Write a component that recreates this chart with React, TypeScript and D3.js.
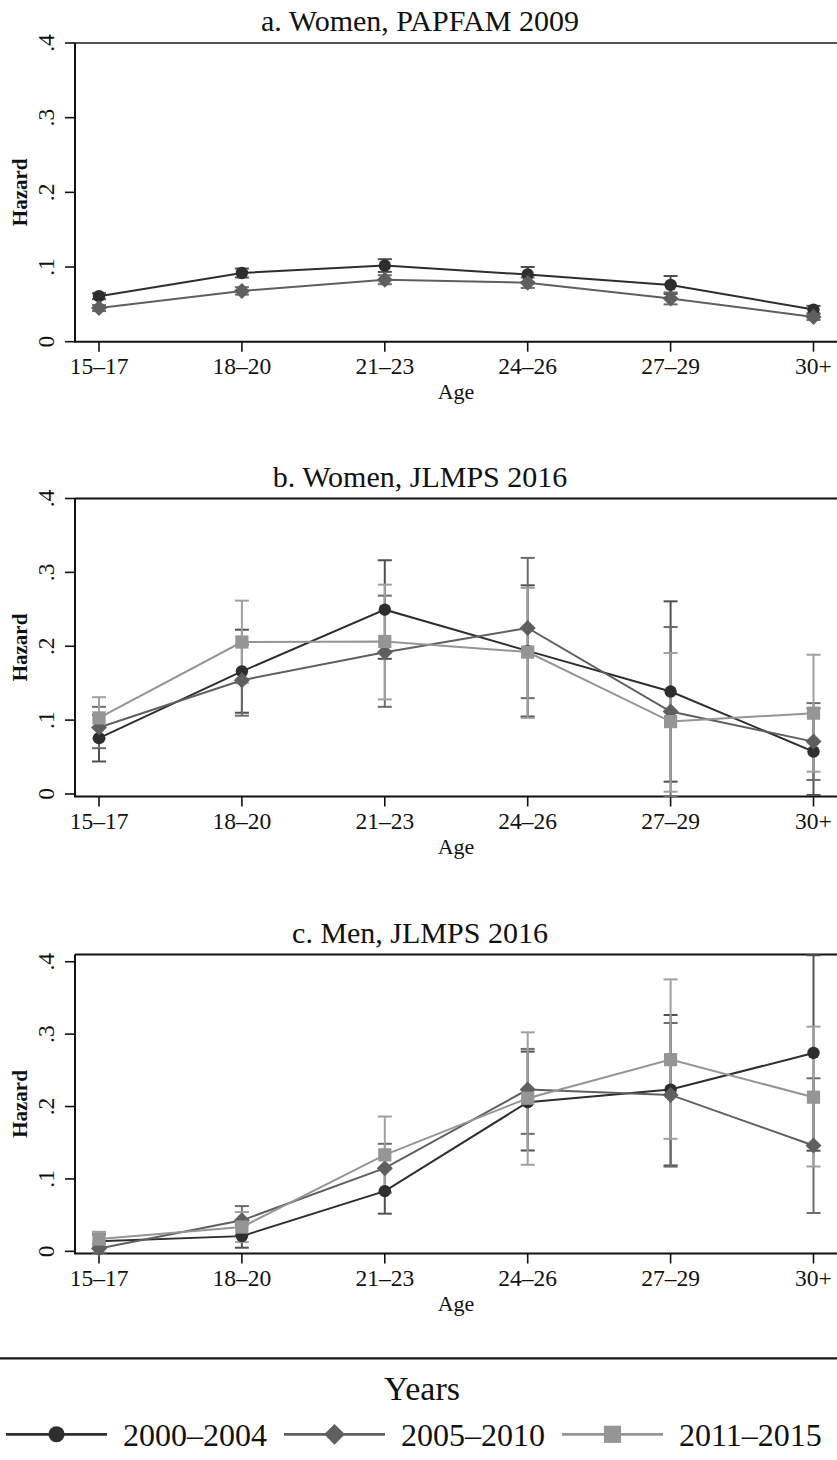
import React from "react";
import * as d3 from "d3";

// categories and labels
const ages = ["15–17", "18–20", "21–23", "24–26", "27–29", "30+"];
const yTicks = [0, 0.1, 0.2, 0.3, 0.4];
const yTickText = ["0", ".1", ".2", ".3", ".4"];
const periods = ["2000–2004", "2005–2010", "2011–2015"];

// a. Women, PAPFAM 2009
const papfam2000 = [0.061, 0.092, 0.102, 0.090, 0.076, 0.043];
const papfam2000Lo = [0.057, 0.086, 0.0935, 0.080, 0.064, 0.038];
const papfam2000Hi = [0.065, 0.098, 0.1105, 0.100, 0.088, 0.048];
const papfam2005 = [0.045, 0.068, 0.083, 0.079, 0.058, 0.033];
const papfam2005Lo = [0.041, 0.063, 0.077, 0.072, 0.050, 0.029];
const papfam2005Hi = [0.049, 0.073, 0.089, 0.086, 0.066, 0.037];

// b. Women, JLMPS 2016
const women2000 = [0.0755, 0.166, 0.2495, 0.1937, 0.1387, 0.0574];
const women2000Lo = [0.044, 0.110, 0.183, 0.1048, 0.0167, -0.0014];
const women2000Hi = [0.107, 0.2224, 0.3164, 0.2825, 0.2608, 0.116];
const women2005 = [0.090, 0.154, 0.192, 0.2247, 0.1116, 0.0709];
const women2005Lo = [0.062, 0.106, 0.118, 0.1297, -0.003, 0.019];
const women2005Hi = [0.118, 0.202, 0.2685, 0.3196, 0.226, 0.123];
const women2011 = [0.103, 0.2057, 0.2065, 0.1921, 0.098, 0.1094];
const women2011Lo = [0.075, 0.150, 0.128, 0.103, 0.0031, 0.0302];
const women2011Hi = [0.131, 0.2617, 0.2834, 0.279, 0.1908, 0.1885];

// c. Men, JLMPS 2016
const men2000 = [0.014, 0.021, 0.0832, 0.206, 0.2234, 0.274];
const men2000Lo = [0.005, 0.005, 0.052, 0.1393, 0.1186, 0.139];
const men2000Hi = [0.0234, 0.037, 0.1144, 0.2759, 0.3264, 0.409];
const men2005 = [0.004, 0.0428, 0.1149, 0.2234, 0.2161, 0.1462];
const men2005Lo = [-0.002, 0.023, 0.0813, 0.1623, 0.117, 0.0529];
const men2005Hi = [0.010, 0.0625, 0.1485, 0.2796, 0.3154, 0.239];
const men2011 = [0.017, 0.0336, 0.1333, 0.2115, 0.2648, 0.2129];
const men2011Lo = [0.007, 0.0128, 0.0804, 0.1196, 0.1554, 0.1172];
const men2011Hi = [0.027, 0.0542, 0.1862, 0.3025, 0.3756, 0.3103];

const FONT = "'Liberation Serif', 'Times New Roman', serif";
const lineColors = ["#2e2e2e", "#5f5f5f", "#959595"];
const barColors = ["#505050", "#6c6c6c", "#a0a0a0"];

type Series = { k: number; est: number[]; lo: number[]; hi: number[] };
type PanelDef = {
  title: string;
  series: Series[];
  yDomain: [number, number];
  top: number;
  bottom: number;
  frame: string;
};

const panels: PanelDef[] = [
  {
    title: "a. Women, PAPFAM 2009",
    series: [
      { k: 0, est: papfam2000, lo: papfam2000Lo, hi: papfam2000Hi },
      { k: 1, est: papfam2005, lo: papfam2005Lo, hi: papfam2005Hi },
    ],
    yDomain: [0, 0.4],
    top: 43,
    bottom: 341.7,
    frame: "#555",
  },
  {
    title: "b. Women, JLMPS 2016",
    series: [
      { k: 0, est: women2000, lo: women2000Lo, hi: women2000Hi },
      { k: 1, est: women2005, lo: women2005Lo, hi: women2005Hi },
      { k: 2, est: women2011, lo: women2011Lo, hi: women2011Hi },
    ],
    yDomain: [-0.0034, 0.4],
    top: 498.5,
    bottom: 796.5,
    frame: "#111",
  },
  {
    title: "c. Men, JLMPS 2016",
    series: [
      { k: 0, est: men2000, lo: men2000Lo, hi: men2000Hi },
      { k: 1, est: men2005, lo: men2005Lo, hi: men2005Hi },
      { k: 2, est: men2011, lo: men2011Lo, hi: men2011Hi },
    ],
    yDomain: [-0.003, 0.41],
    top: 954.5,
    bottom: 1253.5,
    frame: "#111",
  },
];

const x = d3.scalePoint<string>().domain(ages).range([99, 813.5]);
const AXIS_X = 75;
const RIGHT = 837;

function Marker({ k, cx, cy, scale = 1 }: { k: number; cx: number; cy: number; scale?: number }) {
  const c = lineColors[k];
  if (k === 0) return <circle cx={cx} cy={cy} r={6.2 * scale} fill={c} />;
  if (k === 1) {
    const h = 8 * scale;
    return <path d={`M${cx},${cy - h}L${cx + h},${cy}L${cx},${cy + h}L${cx - h},${cy}Z`} fill={c} />;
  }
  const s = 6.6 * scale;
  return <rect x={cx - s} y={cy - s} width={2 * s} height={2 * s} fill={c} />;
}

function Panel({ p }: { p: PanelDef }) {
  const y = d3.scaleLinear().domain(p.yDomain).range([p.bottom, p.top]);
  const line = d3
    .line<number>()
    .x((_, i) => x(ages[i])!)
    .y((d) => y(d));
  const midY = (p.top + p.bottom) / 2;
  return (
    <g>
      <text x={420} y={p.top - 12} fontSize={30} textAnchor="middle">
        {p.title}
      </text>
      <line x1={AXIS_X} x2={RIGHT} y1={p.top} y2={p.top} stroke={p.frame} strokeWidth={2} />
      <line x1={AXIS_X} x2={AXIS_X} y1={p.top} y2={p.bottom} stroke="#111" strokeWidth={2} />
      <line x1={AXIS_X - 1} x2={RIGHT} y1={p.bottom} y2={p.bottom} stroke="#111" strokeWidth={2} />
      {yTicks.map((t, i) => (
        <g key={t}>
          <line x1={65} x2={AXIS_X} y1={y(t)} y2={y(t)} stroke="#111" strokeWidth={1.6} />
          <text transform={`translate(54,${y(t)}) rotate(-90)`} fontSize={23.5} textAnchor="middle">
            {yTickText[i]}
          </text>
        </g>
      ))}
      {ages.map((a) => (
        <g key={a}>
          <line x1={x(a)} x2={x(a)} y1={p.bottom} y2={p.bottom + 10} stroke="#111" strokeWidth={1.6} />
          <text x={x(a)} y={p.bottom + 32} fontSize={23.5} textAnchor="middle">
            {a}
          </text>
        </g>
      ))}
      <text x={456} y={p.bottom + 57.5} fontSize={22} textAnchor="middle">
        Age
      </text>
      <text transform={`translate(27,${midY}) rotate(-90)`} fontSize={21} fontWeight="bold" textAnchor="middle">
        Hazard
      </text>
      {p.series.map((s) => (
        <g key={"ci" + s.k} stroke={barColors[s.k]} strokeWidth={2}>
          {ages.map((a, i) => (
            <g key={a}>
              <line x1={x(a)} x2={x(a)} y1={y(s.lo[i])} y2={y(s.hi[i])} />
              <line x1={x(a)! - 7} x2={x(a)! + 7} y1={y(s.lo[i])} y2={y(s.lo[i])} />
              <line x1={x(a)! - 7} x2={x(a)! + 7} y1={y(s.hi[i])} y2={y(s.hi[i])} />
            </g>
          ))}
        </g>
      ))}
      {p.series.map((s) => (
        <g key={"ln" + s.k}>
          <path d={line(s.est)!} fill="none" stroke={lineColors[s.k]} strokeWidth={2} />
          {s.est.map((v, i) => (
            <Marker key={i} k={s.k} cx={x(ages[i])!} cy={y(v)} />
          ))}
        </g>
      ))}
    </g>
  );
}

function Legend() {
  const itemX = d3.scaleLinear().domain([0, 1]).range([6, 284]);
  return (
    <g>
      <line x1={0} x2={RIGHT} y1={1358.3} y2={1358.3} stroke="#1a1a1a" strokeWidth={2.2} />
      <text x={422} y={1400} fontSize={34} textAnchor="middle">
        Years
      </text>
      {periods.map((label, k) => {
        const x0 = itemX(k);
        return (
          <g key={label}>
            <line x1={x0} x2={x0 + 101} y1={1434.3} y2={1434.3} stroke={lineColors[k]} strokeWidth={2.8} />
            <Marker k={k} cx={x0 + 50.5} cy={1434.3} scale={1.3} />
            <text x={x0 + 117} y={1446} fontSize={32}>
              {label}
            </text>
          </g>
        );
      })}
    </g>
  );
}

export default function App() {
  return (
    <svg
      width={837}
      height={1460}
      style={{ position: "absolute", left: 0, top: 0, background: "#fff" }}
      fontFamily={FONT}
      fill="#111"
    >
      <rect width={837} height={1460} fill="#fff" />
      {panels.map((p) => (
        <Panel key={p.title} p={p} />
      ))}
      <Legend />
    </svg>
  );
}
